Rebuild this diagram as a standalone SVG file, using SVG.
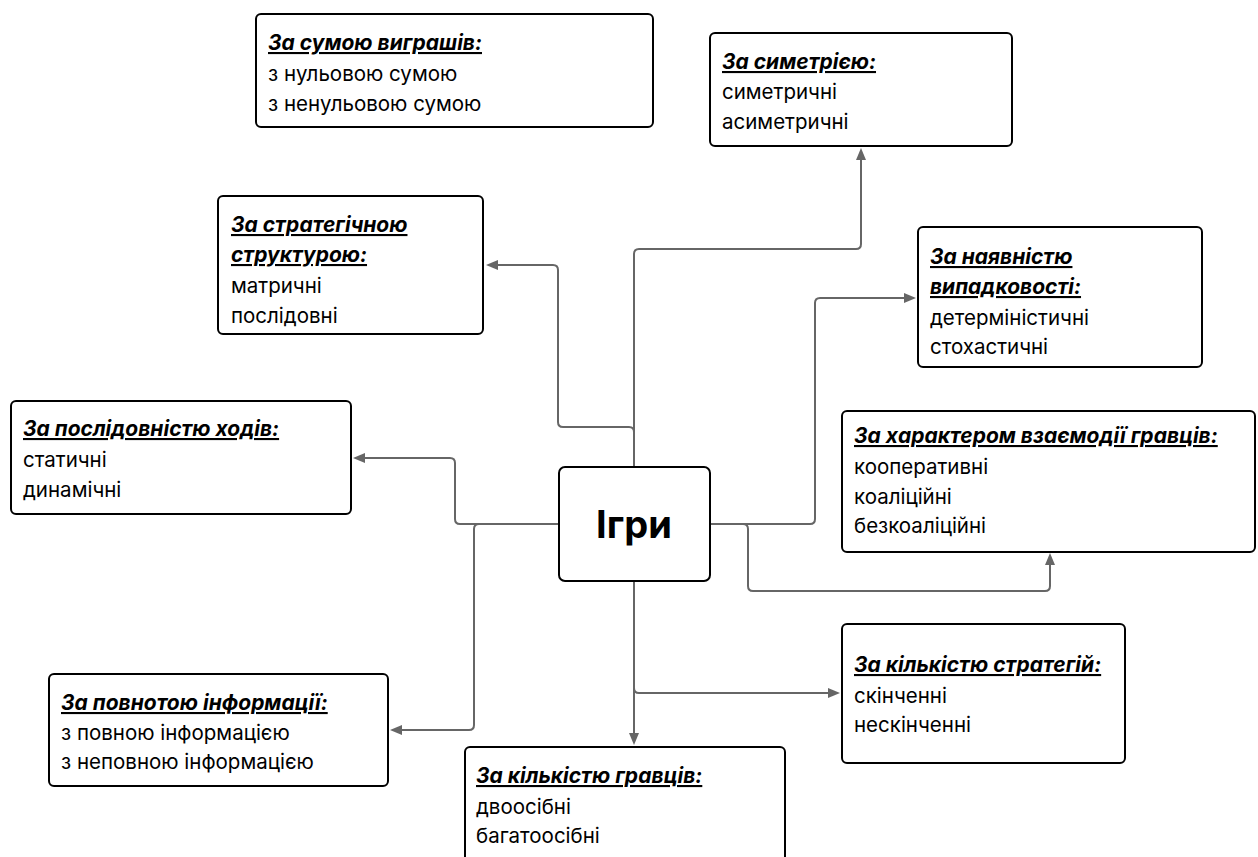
<svg xmlns="http://www.w3.org/2000/svg" width="1258" height="857" viewBox="0 0 1258 857">
<style>
.box{fill:#fff;stroke:#000;stroke-width:2}
.t{font-family:Inter,"Noto Sans","Liberation Sans",sans-serif;font-size:20.5px;fill:#000}
.h{font-size:21px;font-weight:bold;font-style:italic;text-decoration:underline}
.c{fill:none;stroke:#666;stroke-width:2}
.main{font-family:Inter,"Noto Sans","Liberation Sans",sans-serif;font-size:38px;font-weight:bold;fill:#000}
</style>
<defs>
<marker id="ah" viewBox="0 0 12 10" refX="4" refY="5" markerWidth="12" markerHeight="10" markerUnits="userSpaceOnUse" orient="auto">
<path d="M0,0 L12,5 L0,10 z" fill="#666"/>
</marker>
</defs>
<rect width="1258" height="857" fill="#fff"/>
<g id="connectors">
<path class="c" marker-end="url(#ah)" d="M634,467 V254 Q634,249 639,249 H856 Q861,249 861,244 V156"/>
<path class="c" marker-end="url(#ah)" d="M634,467 V432 Q634,427 629,427 H563 Q558,427 558,422 V270 Q558,265 553,265 H494"/>
<path class="c" marker-end="url(#ah)" d="M559,524 H460 Q455,524 455,519 V463 Q455,458 450,458 H361"/>
<path class="c" marker-end="url(#ah)" d="M559,524 H479 Q474,524 474,529 V725 Q474,730 469,730 H398"/>
<path class="c" marker-end="url(#ah)" d="M710,524 H810 Q815,524 815,519 V303 Q815,298 820,298 H908"/>
<path class="c" marker-end="url(#ah)" d="M710,524 H743 Q748,524 748,529 V586 Q748,591 753,591 H1045 Q1050,591 1050,586 V561"/>
<path class="c" marker-end="url(#ah)" d="M634,581 V737"/>
<path class="c" marker-end="url(#ah)" d="M634,581 V688 Q634,693 639,693 H832"/>
</g>
<g id="center">
<rect class="box" x="559" y="467" width="151" height="114" rx="6"/>
<text class="main" x="634" y="538" text-anchor="middle">Ігри</text>
</g>
<g id="sum">
<rect class="box" x="256" y="14" width="397" height="113" rx="5"/>
<text class="t h" x="268" y="50">За сумою виграшів:</text>
<text class="t" x="268" y="81">з нульовою сумою</text>
<text class="t" x="268" y="111">з ненульовою сумою</text>
</g>
<g id="symmetry">
<rect class="box" x="710" y="33" width="302" height="113" rx="5"/>
<text class="t h" x="722" y="69">За симетрією:</text>
<text class="t" x="722" y="99">симетричні</text>
<text class="t" x="722" y="129">асиметричні</text>
</g>
<g id="structure">
<rect class="box" x="218" y="196" width="265" height="138" rx="5"/>
<text class="t h" x="231" y="232">За стратегічною</text>
<text class="t h" x="231" y="262">структурою:</text>
<text class="t" x="231" y="293">матричні</text>
<text class="t" x="231" y="323">послідовні</text>
</g>
<g id="randomness">
<rect class="box" x="918" y="227" width="284" height="140" rx="5"/>
<text class="t h" x="930" y="264">За наявністю</text>
<text class="t h" x="930" y="294">випадковості:</text>
<text class="t" x="930" y="325">детерміністичні</text>
<text class="t" x="930" y="354">стохастичні</text>
</g>
<g id="sequence">
<rect class="box" x="11" y="401" width="340" height="113" rx="5"/>
<text class="t h" x="23" y="436">За послідовністю ходів:</text>
<text class="t" x="23" y="467">статичні</text>
<text class="t" x="23" y="497">динамічні</text>
</g>
<g id="interaction">
<rect class="box" x="842" y="411" width="413" height="141" rx="5"/>
<text class="t h" x="854" y="443">За характером взаємодії гравців:</text>
<text class="t" x="854" y="474">кооперативні</text>
<text class="t" x="854" y="504">коаліційні</text>
<text class="t" x="854" y="533">безкоаліційні</text>
</g>
<g id="strategies">
<rect class="box" x="842" y="624" width="283" height="139" rx="5"/>
<text class="t h" x="854" y="672">За кількістю стратегій:</text>
<text class="t" x="854" y="703">скінченні</text>
<text class="t" x="854" y="732">нескінченні</text>
</g>
<g id="information">
<rect class="box" x="49" y="674" width="339" height="112" rx="5"/>
<text class="t h" x="61" y="710">За повнотою інформації:</text>
<text class="t" x="61" y="740">з повною інформацією</text>
<text class="t" x="61" y="769">з неповною інформацією</text>
</g>
<g id="players">
<rect class="box" x="465" y="747" width="320" height="130" rx="5"/>
<text class="t h" x="476" y="783">За кількістю гравців:</text>
<text class="t" x="476" y="814">двоосібні</text>
<text class="t" x="476" y="843">багатоосібні</text>
</g>
</svg>
